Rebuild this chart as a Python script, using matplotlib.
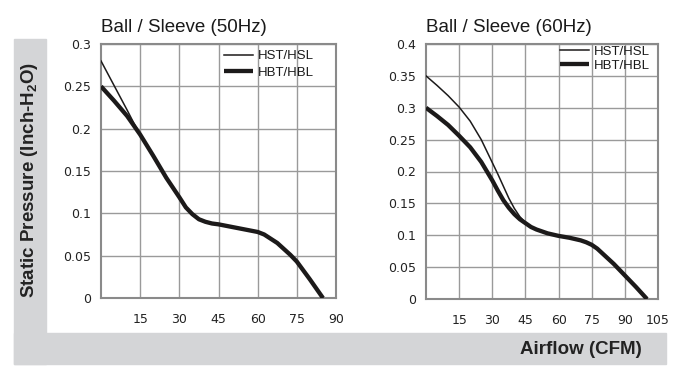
import matplotlib
matplotlib.use("Agg")
import matplotlib.pyplot as plt
from matplotlib.patches import Rectangle

plt.rcParams['font.family'] = ['Liberation Sans', 'DejaVu Sans']
plt.rcParams['mathtext.fontset'] = 'custom'
plt.rcParams['mathtext.rm'] = 'Liberation Sans'
plt.rcParams['mathtext.bf'] = 'Liberation Sans:bold'

# ---- data ----
titles = ["Ball / Sleeve (50Hz)", "Ball / Sleeve (60Hz)"]
series_names = ["HST/HSL", "HBT/HBL"]

x50 = [0, 5, 10, 12.5, 15, 20, 25, 30, 32.5, 35, 37.5, 40, 42.5, 45, 50, 55, 60,
       62.5, 65, 67.5, 70, 72.5, 75, 80, 85]
hst50 = [0.28, 0.251, 0.222, 0.207, 0.193, 0.168, 0.142, 0.119, 0.107, 0.099, 0.093,
         0.090, 0.088, 0.087, 0.084, 0.081, 0.078, 0.075, 0.070, 0.065, 0.058, 0.051,
         0.043, 0.022, 0.0]
hbt50 = [0.25, 0.233, 0.215, 0.204, 0.193, 0.168, 0.142, 0.119, 0.107, 0.099, 0.093,
         0.090, 0.088, 0.087, 0.084, 0.081, 0.078, 0.075, 0.070, 0.065, 0.058, 0.051,
         0.043, 0.022, 0.0]

x60 = [0, 5, 10, 15, 20, 25, 30, 32.5, 35, 37.5, 40, 42.5, 45, 47.5, 50, 55, 60, 65,
       70, 72.5, 75, 77.5, 80, 82.5, 85, 90, 95, 100]
hst60 = [0.35, 0.335, 0.319, 0.301, 0.279, 0.250, 0.214, 0.196, 0.177, 0.158, 0.142,
         0.129, 0.120, 0.113, 0.109, 0.103, 0.099, 0.096, 0.092, 0.089, 0.085, 0.079,
         0.071, 0.063, 0.055, 0.037, 0.019, 0.0]
hbt60 = [0.30, 0.287, 0.273, 0.256, 0.238, 0.215, 0.186, 0.170, 0.155, 0.143, 0.133,
         0.125, 0.119, 0.113, 0.109, 0.103, 0.099, 0.096, 0.092, 0.089, 0.085, 0.079,
         0.071, 0.063, 0.055, 0.037, 0.019, 0.0]

xticks50 = [15, 30, 45, 60, 75, 90]
yticks50 = [0, 0.05, 0.1, 0.15, 0.2, 0.25, 0.3]
ytick_labels50 = ["0", "0.05", "0.1", "0.15", "0.2", "0.25", "0.3"]
xticks60 = [15, 30, 45, 60, 75, 90, 105]
yticks60 = [0, 0.05, 0.1, 0.15, 0.2, 0.25, 0.3, 0.35, 0.4]
ytick_labels60 = ["0", "0.05", "0.1", "0.15", "0.2", "0.25", "0.3", "0.35", "0.4"]

W, H = 680, 386
fig = plt.figure(figsize=(W / 100, H / 100), dpi=100)

band = '#d4d5d7'
fig.patches.append(Rectangle((14 / W, 1 - 364 / H), (46 - 14) / W, (364 - 39) / H,
                             transform=fig.transFigure, color=band, zorder=0))
fig.patches.append(Rectangle((14 / W, 1 - 364 / H), (666 - 14) / W, (364 - 333) / H,
                             transform=fig.transFigure, color=band, zorder=0))

ax1 = fig.add_axes([101 / W, 1 - 298 / H, (336 - 101) / W, (298 - 44) / H])
ax2 = fig.add_axes([426 / W, 1 - 299 / H, (658 - 426) / W, (299 - 44) / H])

line_col = '#1c1a1a'
grid_col = '#9a9a9a'

configs = [
    (ax1, x50, hst50, hbt50, (0, 90), (0, 0.3), xticks50, yticks50, ytick_labels50,
     titles[0], (0.906, 0.976), 0.3),
    (ax2, x60, hst60, hbt60, (0, 105), (0, 0.4), xticks60, yticks60, ytick_labels60,
     titles[1], (0.966, 0.994), 0.15),
]

for ax, x, thin, thick, xl, yl, xt, yt, ytl, title, anchor, lsp in configs:
    ax.plot(x, thin, color=line_col, lw=1.1, label=series_names[0], zorder=3,
            solid_joinstyle='round')
    ax.plot(x, thick, color=line_col, lw=3.1, label=series_names[1], zorder=3,
            solid_joinstyle='round', solid_capstyle='butt')
    ax.set_xlim(*xl)
    ax.set_ylim(*yl)
    ax.set_xticks(xt)
    ax.set_xticklabels([str(v) for v in xt], family='DejaVu Sans')
    ax.set_yticks(yt)
    ax.set_yticklabels(ytl, family='DejaVu Sans')
    ax.grid(True, color=grid_col, lw=1.0)
    ax.set_axisbelow(True)
    for s in ax.spines.values():
        s.set_color('#8a8a8a')
        s.set_linewidth(1.5)
    ax.tick_params(length=0, labelsize=9, colors='#222222')
    ax.tick_params(axis='x', pad=11)
    ax.tick_params(axis='y', pad=7)
    ax.set_title(title, loc='left', fontsize=13.5, pad=9, color='#1a1a1a')
    leg = ax.legend(loc='upper right', frameon=False, fontsize=9.5,
                    handlelength=2.2, handletextpad=0.4, labelspacing=lsp,
                    borderaxespad=0, borderpad=0, bbox_to_anchor=anchor)
    for t in leg.get_texts():
        t.set_color('#1a1a1a')

fig.text(30 / W, 1 - 180 / H, r'Static Pressure (Inch-H$_\mathbf{2}$O)',
         rotation=90, ha='center', va='center', fontsize=13.5, fontweight='bold',
         color='#222222')
fig.text(642 / W, 1 - 350 / H, 'Airflow (CFM)', ha='right', va='center',
         fontsize=13.5, fontweight='bold', color='#222222')

fig.savefig('out.png', dpi=100)
